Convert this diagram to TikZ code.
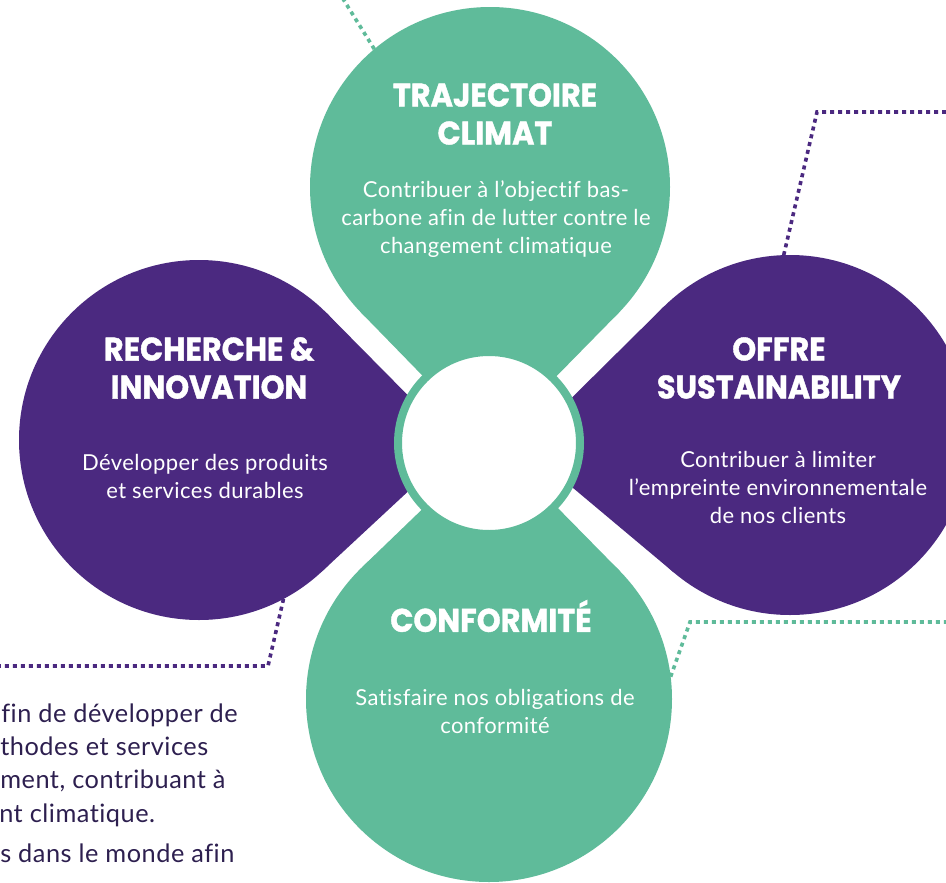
\documentclass[tikz,border=0pt]{standalone}
\usepackage{fontspec}
\setmainfont{Lato}[Ligatures={NoCommon}, LetterSpace=2]
\newfontfamily\titlefont[FakeStretch=0.93, FakeBold=1.2]{Poppins}
\usetikzlibrary{calc}
\definecolor{mint}{HTML}{5FBB9A}
\definecolor{petalpurple}{HTML}{4B2980}
\definecolor{inkdark}{HTML}{2D1F4F}
\tikzset{
  petaltitle/.style={text=white, align=center, inner sep=0pt, font=\titlefont\bfseries\fontsize{24.5pt}{28.5pt}\selectfont},
  petalbody/.style={text=white, align=center, inner sep=0pt, font=\fontsize{16.5pt}{21pt}\selectfont},
  sidetext/.style={text=inkdark, anchor=base west, inner sep=0pt, font=\fontsize{19pt}{22pt}\selectfont},
  gdots/.style={draw=mint, line width=2.7pt, dash pattern=on 3pt off 3pt},
  pdots/.style={draw=petalpurple, line width=2.7pt, dash pattern=on 3pt off 3pt},
  disc/.style={circle, inner sep=0pt, outer sep=0pt, minimum size=#1},
}
\begin{document}
\begin{tikzpicture}[x=0.75pt,y=-0.75pt]
\useasboundingbox (0,0) rectangle (946,882);
% petal circles
\node[disc=270pt, fill=mint] (topc) at (490,187) {};
\node[disc=274.5pt, fill=mint] (botc) at (489,699) {};
\node[disc=270pt, fill=petalpurple] (leftc) at (199,440) {};
\node[disc=270pt, fill=petalpurple] (rightc) at (790,435) {};
% tips
\coordinate (tipT) at (489.5,444.5);
\coordinate (tipB) at (492.5,441.5);
\coordinate (tipL) at (457.5,445.5);
\coordinate (tipR) at (523,446);
\fill[mint] (tipT) -- (tangent cs:node=topc,point={(tipT)},solution=1) -- (topc.center) -- (tangent cs:node=topc,point={(tipT)},solution=2) -- cycle;
\fill[mint] (tipB) -- (tangent cs:node=botc,point={(tipB)},solution=1) -- (botc.center) -- (tangent cs:node=botc,point={(tipB)},solution=2) -- cycle;
\fill[petalpurple] (tipL) -- (tangent cs:node=leftc,point={(tipL)},solution=1) -- (leftc.center) -- (tangent cs:node=leftc,point={(tipL)},solution=2) -- cycle;
\fill[petalpurple] (tipR) -- (tangent cs:node=rightc,point={(tipR)},solution=1) -- (rightc.center) -- (tangent cs:node=rightc,point={(tipR)},solution=2) -- cycle;
% centre ring
\node[disc=136.5pt, draw=mint, line width=6pt, fill=white] (ring) at (489,443) {};
% dotted connectors
\coordinate (gEndTop) at (340,-6);
\draw[gdots] (topc.130) -- (gEndTop);
\coordinate (pCornerR) at (817,112);
\coordinate (pEndR) at (952,112);
\draw[pdots] (rightc.92) -- (pCornerR) -- (pEndR);
\coordinate (gCornerB) at (690,622);
\coordinate (gEndB) at (952,622);
\draw[gdots] (botc.7) -- (gCornerB) -- (gEndB);
\coordinate (pCornerL) at (268,666);
\coordinate (pEndL) at (-6,666);
\draw[pdots] (leftc.-62) -- (pCornerL) -- (pEndL);
% texts
\node[petaltitle] (tTitle) at (495,114) {TRAJECTOIRE\\CLIMAT};
\node[petalbody] (tBody) at (496,219) {Contribuer à l’objectif bas-\\carbone afin de lutter contre le\\changement climatique};
\node[petaltitle] (lTitle) at (209,368) {RECHERCHE \&\\INNOVATION};
\node[petalbody] (lBody) at (205,476) {Développer des produits\\et services durables};
\node[petaltitle] (rTitle) at (779,368) {OFFRE\\SUSTAINABILITY};
\node[petalbody] (rBody) at (778,487) {Contribuer à limiter\\l’empreinte environnementale\\de nos clients};
\node[petaltitle] (bTitle) at (491,616) {CONFORMITÉ};
\node[petalbody] (bBody) at (495,711) {Satisfaire nos obligations de\\conformité};
% side text (cut at the left edge)
\node[sidetext] (s1) at (1,722) {fin de développer de};
\node[sidetext] (s2) at (0,755) {thodes et services};
\node[sidetext] (s3) at (0,788) {ment, contribuant à};
\node[sidetext] (s4) at (-1,822) {nt climatique.};
\node[sidetext] (s5) at (0,862) {s dans le monde afin};
\end{tikzpicture}
\end{document}
